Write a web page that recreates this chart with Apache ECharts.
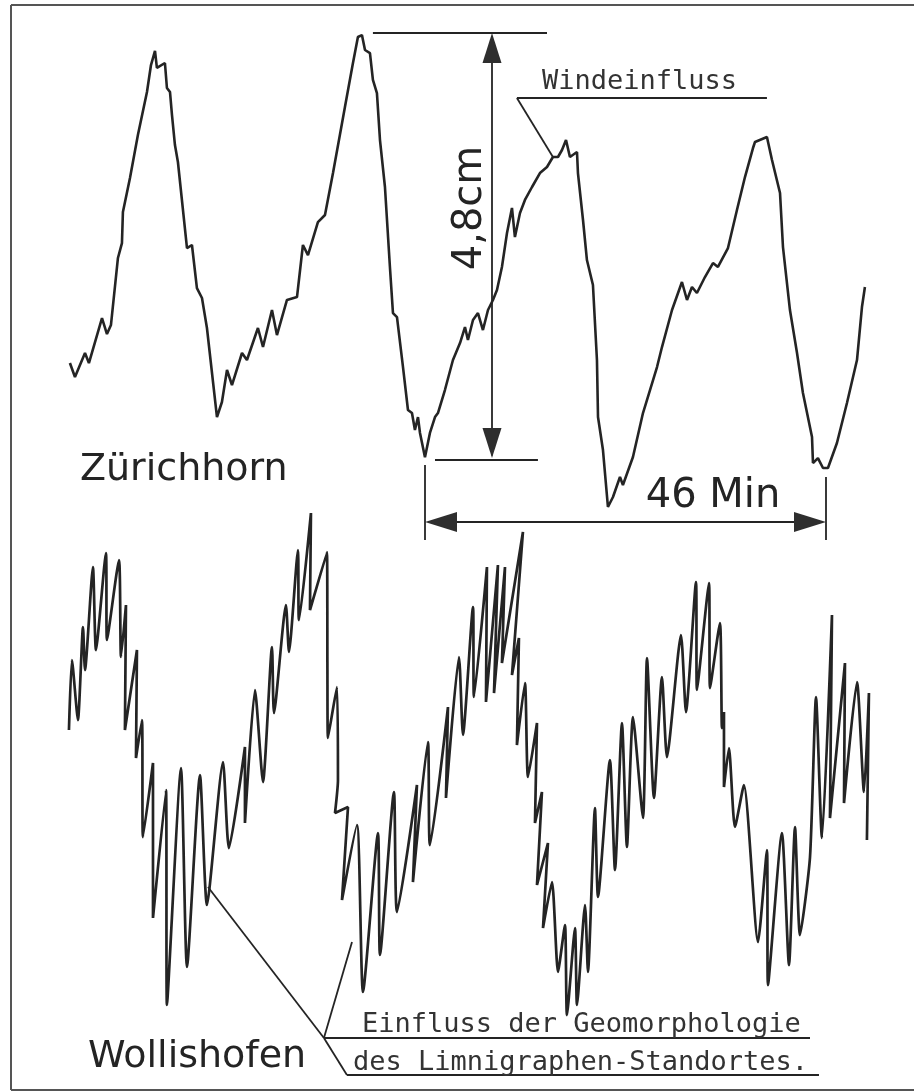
<!DOCTYPE html>
<html>
<head>
<meta charset="utf-8">
<title>Limnigraphen Zürichhorn / Wollishofen</title>
<script src="https://cdn.jsdelivr.net/npm/echarts@6.0.0/dist/echarts.min.js"></script>
<style>
  html, body { margin: 0; padding: 0; background: #fff; }
  #chart { width: 914px; height: 1092px; }
</style>
</head>
<body>
<div id="chart"></div>
<script>
// x = Zeit in Minuten (0 = Tiefpunkt Zürichhorn), y = Wasserstand in mm (0 = Tiefpunkt)
const zurichhorn = [
  [-40.73,10.90],[-40.15,9.33],[-39.00,12.03],[-38.55,10.90],[-37.05,15.96],[-36.48,14.16],[-36.02,15.18],
  [-35.22,22.71],[-34.76,24.39],[-34.65,27.88],[-33.84,31.70],[-32.93,36.53],[-31.89,41.37],[-31.43,44.40],
  [-30.97,45.98],[-30.75,44.07],[-29.83,44.63],[-29.60,41.82],[-29.25,41.37],[-29.02,38.78],[-28.68,35.41],
  [-28.34,33.50],[-27.30,23.83],[-26.73,24.17],[-26.16,19.33],[-25.58,18.21],[-25.01,14.84],[-23.86,4.83],
  [-23.29,6.52],[-22.71,10.12],[-22.14,8.43],[-20.99,12.03],[-20.42,11.24],[-19.16,14.84],[-18.58,12.70],
  [-17.55,16.86],[-16.98,14.05],[-15.83,17.99],[-14.68,18.32],[-14.00,24.17],[-13.42,23.04],[-12.28,26.75],
  [-11.47,27.54],[-10.55,32.26],[-9.18,39.68],[-8.26,44.63],[-7.69,47.55],[-7.23,47.77],[-6.88,46.09],
  [-6.31,45.75],[-5.97,42.72],[-5.51,41.25],[-5.16,35.97],[-4.59,30.69],[-4.02,21.70],[-3.67,16.52],
  [-3.21,16.07],[-2.52,10.45],[-1.95,5.62],[-1.49,5.28],[-1.15,3.37],[-0.80,4.83],[-0.57,3.04],[0,0.3],
  [0.57,3.04],[1.15,4.83],[1.49,5.28],[2.29,7.87],[3.21,11.24],[4.02,13.15],[4.59,14.95],[4.93,13.49],
  [5.51,15.74],[6.08,16.52],[6.65,14.61],[7.23,16.86],[7.80,17.99],[8.26,19.11],[8.83,21.70],[9.41,25.52],
  [9.98,28.33],[10.32,25.07],[10.90,27.77],[11.47,29.23],[12.28,30.69],[13.19,32.26],[14.00,32.94],
  [14.68,34.06],[15.26,34.06],[15.72,34.85],[16.18,35.97],[16.63,34.06],[17.44,34.62],[17.55,32.26],
  [18.13,26.98],[18.58,22.48],[19.27,19.67],[19.73,11.24],[19.85,4.83],[20.42,1.12],[20.99,-5.28],
  [21.57,-4.16],[22.37,-1.91],[22.71,-2.81],[23.86,0.34],[25.01,5.28],[26.62,10.45],[27.19,12.70],
  [28.34,16.86],[29.48,20.01],[30.06,17.99],[30.63,19.45],[31.20,18.77],[32.12,20.57],[33.04,22.14],
  [33.61,21.70],[34.76,23.83],[35.79,28.10],[36.71,31.81],[37.63,35.07],[37.86,35.75],[39.23,36.31],
  [39.81,33.72],[40.73,30.01],[41.07,23.94],[41.87,16.86],[42.68,12.03],[43.36,7.53],[44.40,2.59],
  [44.51,-0.34],[45.08,0.22],[45.66,-0.90],[46.23,-0.90],[47.26,1.91],[48.41,6.41],[49.56,11.24],
  [50.13,17.20],[50.47,19.45]
];

const wollishofen = [
  [-40.84,-30.35],[-40.50,-22.48],[-39.81,-29.23],[-39.23,-18.77],[-39.00,-23.61],[-38.09,-12.03],
  [-37.74,-21.36],[-36.60,-10.45],[-36.48,-20.23],[-35.10,-11.24],[-34.87,-22.14],[-34.30,-16.30],
  [-34.42,-30.35],[-33.04,-21.36],[-33.15,-33.50],[-32.47,-29.23],[-32.35,-42.38],[-31.20,-34.06],
  [-31.20,-51.48],[-29.71,-37.10],[-29.60,-61.26],[-27.99,-34.62],[-27.30,-56.99],[-25.81,-35.41],
  [-25.01,-50.02],[-23.17,-33.95],[-22.49,-43.62],[-20.65,-32.26],[-20.65,-40.80],[-19.50,-25.85],
  [-18.58,-36.20],[-17.55,-21.02],[-17.32,-28.44],[-15.95,-16.30],[-15.60,-21.58],[-14.57,-10.12],
  [-14.45,-17.99],[-13.08,-5.96],[-13.19,-16.86],[-11.24,-10.34],[-11.19,-23.61],[-11.13,-31.25],
  [-10.10,-25.52],[-9.98,-35.97],[-10.32,-39.68],[-8.83,-39.01],[-9.52,-49.46],[-7.80,-41.03],
  [-7.11,-59.80],[-5.39,-41.93],[-5.16,-55.64],[-3.56,-37.32],[-3.21,-50.81],[-0.92,-36.53],
  [-1.38,-47.44],[0.34,-31.70],[0.57,-43.28],[2.64,-27.77],[2.41,-37.99],[3.90,-22.14],[4.36,-30.91],
  [5.51,-16.52],[5.62,-26.64],[7.11,-12.03],[7.00,-27.20],[8.37,-11.80],[7.92,-26.19],[9.18,-12.03],
  [8.83,-22.82],[11.24,-8.09],[9.98,-24.17],[10.78,-20.01],[10.55,-32.04],[11.47,-25.07],[11.82,-35.63],
  [12.85,-29.56],[12.62,-40.80],[13.42,-37.32],[12.85,-47.77],[14.11,-43.05],[13.54,-52.61],
  [14.57,-47.44],[15.26,-57.55],[16.06,-52.27],[16.29,-62.39],[17.21,-52.61],[17.44,-61.26],
  [18.36,-50.02],[18.70,-57.55],[19.50,-39.12],[19.85,-49.12],[21.22,-33.72],[21.80,-46.09],
  [22.60,-29.56],[23.17,-43.50],[23.86,-28.89],[25.01,-40.24],[25.47,-22.26],[26.27,-37.99],
  [27.19,-24.39],[27.76,-33.39],[29.37,-19.67],[29.94,-28.33],[31.09,-13.71],[31.20,-25.85],
  [32.58,-13.83],[32.70,-25.63],[33.84,-18.32],[34.07,-30.13],[34.30,-28.33],[34.30,-36.76],
  [34.87,-32.37],[35.56,-41.25],[36.59,-36.53],[38.20,-54.18],[39.23,-43.84],[39.35,-59.02],
  [40.95,-41.93],[41.76,-56.77],[42.45,-41.25],[43.02,-53.40],[44.17,-44.63],[44.86,-26.64],
  [45.54,-42.49],[46.69,-17.42],[46.46,-40.24],[48.18,-22.82],[48.07,-38.56],[49.56,-24.96],
  [50.36,-37.32],[50.93,-26.19],[50.70,-42.72]
];

// Masslinien, Hinweislinien (Minuten / mm)
const guideSegments = [
  [[7.69, 0.5], [7.69, 47.5]],          // 4,8cm Pfeil
  [[-5.97, 48], [14.0, 48]],            // obere Bezugslinie
  [[1.15, 0], [12.96, 0]],              // untere Bezugslinie
  [[0.5, -6.97], [45.5, -6.97]],        // 46 Min Pfeil
  [[0, -0.56], [0, -8.99]],
  [[46, -1.91], [46, -8.99]],
  [[14.68, 34.06], [10.55, 40.69]],     // Windeinfluss
  [[10.55, 40.69], [39.23, 40.69]],
  [[-24.89, -48.0], [-11.59, -64.97]],  // Geomorphologie
  [[-8.37, -54.18], [-11.59, -64.97]],
  [[-11.59, -64.97], [44.17, -64.97]],
  [[-11.59, -64.97], [-8.95, -69.13]],
  [[-8.95, -69.13], [45.2, -69.13]]
];

const frameSegments = [
  [[-47.49, 51.15], [60, 51.15]],
  [[-47.49, 51.15], [-47.49, -70.82]],
  [[-47.49, -70.82], [60, -70.82]]
];

// Pfeilspitzen: Mittelpunkt, Drehung
const arrowHeads = [
  { value: [7.69, 46.31], rot: 0, size: [19, 30] },
  { value: [7.69, 1.91], rot: 180, size: [19, 30] },
  { value: [1.84, -6.97], rot: 90, size: [20, 32] },
  { value: [44.17, -6.97], rot: -90, size: [20, 32] }
];

const stationLabels = [
  { text: 'Zürichhorn', value: [-39.58, -1.12] },
  { text: 'Wollishofen', value: [-38.66, -67.11] }
];
const noteLabels = [
  { text: 'Windeinfluss', value: [13.42, 42.49] },
  { text: 'Einfluss der Geomorphologie', value: [-7.23, -63.51] },
  { text: 'des Limnigraphen-Standortes.', value: [-8.26, -67.78] }
];
const scaleLabels = [
  { text: '46 Min', value: [33.04, -4.16], rotate: 0 },
  { text: '4,8cm', value: [5.28, 28.33], rotate: 90 }
];

const ink = '#242424';
const chart = echarts.init(document.getElementById('chart'), null, { renderer: 'canvas' });

// Textpunkte ohne Symbol, nur Beschriftung
function textSeries(items, label) {
  return {
    type: 'scatter',
    symbolSize: 0,
    silent: true,
    itemStyle: { opacity: 1 },
    data: items.map(l => ({ value: l.value, name: l.text, label: l.rotate ? { rotate: l.rotate } : undefined })),
    label: Object.assign({ show: true, formatter: p => p.name, color: ink, opacity: 1 }, label)
  }
}

chart.setOption({
  animation: false,
  backgroundColor: '#fff',
  grid: { left: 0, right: 0, top: 0, bottom: 0 },
  xAxis: { type: 'value', min: -48.75, max: 56.10, show: false },
  yAxis: { type: 'value', min: -71.04, max: 51.71, show: false },
  series: [
    {
      name: 'Zürichhorn',
      type: 'line',
      data: zurichhorn,
      showSymbol: false,
      lineStyle: { color: ink, width: 2.6 },
      silent: true
    },
    {
      name: 'Wollishofen',
      type: 'line',
      data: wollishofen,
      showSymbol: false,
      smooth: 0.2,
      lineStyle: { color: ink, width: 2.7 },
      silent: true
    },
    {
      type: 'lines',
      coordinateSystem: 'cartesian2d',
      data: guideSegments.map(s => ({ coords: s })),
      lineStyle: { color: ink, width: 1.8, opacity: 1, curveness: 0 },
      silent: true
    },
    {
      type: 'lines',
      coordinateSystem: 'cartesian2d',
      data: frameSegments.map(s => ({ coords: s })),
      lineStyle: { color: '#555', width: 2, opacity: 1 },
      silent: true
    },
    {
      type: 'scatter',
      data: arrowHeads.map(a => ({ value: a.value, symbolRotate: a.rot, symbolSize: a.size })),
      symbol: 'triangle',
      itemStyle: { color: '#2e2e2e', opacity: 1 },
      silent: true
    },
    textSeries(stationLabels, { position: 'right', distance: 0, fontFamily: 'DejaVu Sans', fontSize: 38 }),
    textSeries(noteLabels, { position: 'right', distance: 0, fontFamily: 'DejaVu Sans Mono', fontSize: 27, color: '#333' }),
    textSeries(scaleLabels, { position: 'inside', fontFamily: 'DejaVu Sans', fontSize: 40 })
  ]
});
</script>
</body>
</html>
